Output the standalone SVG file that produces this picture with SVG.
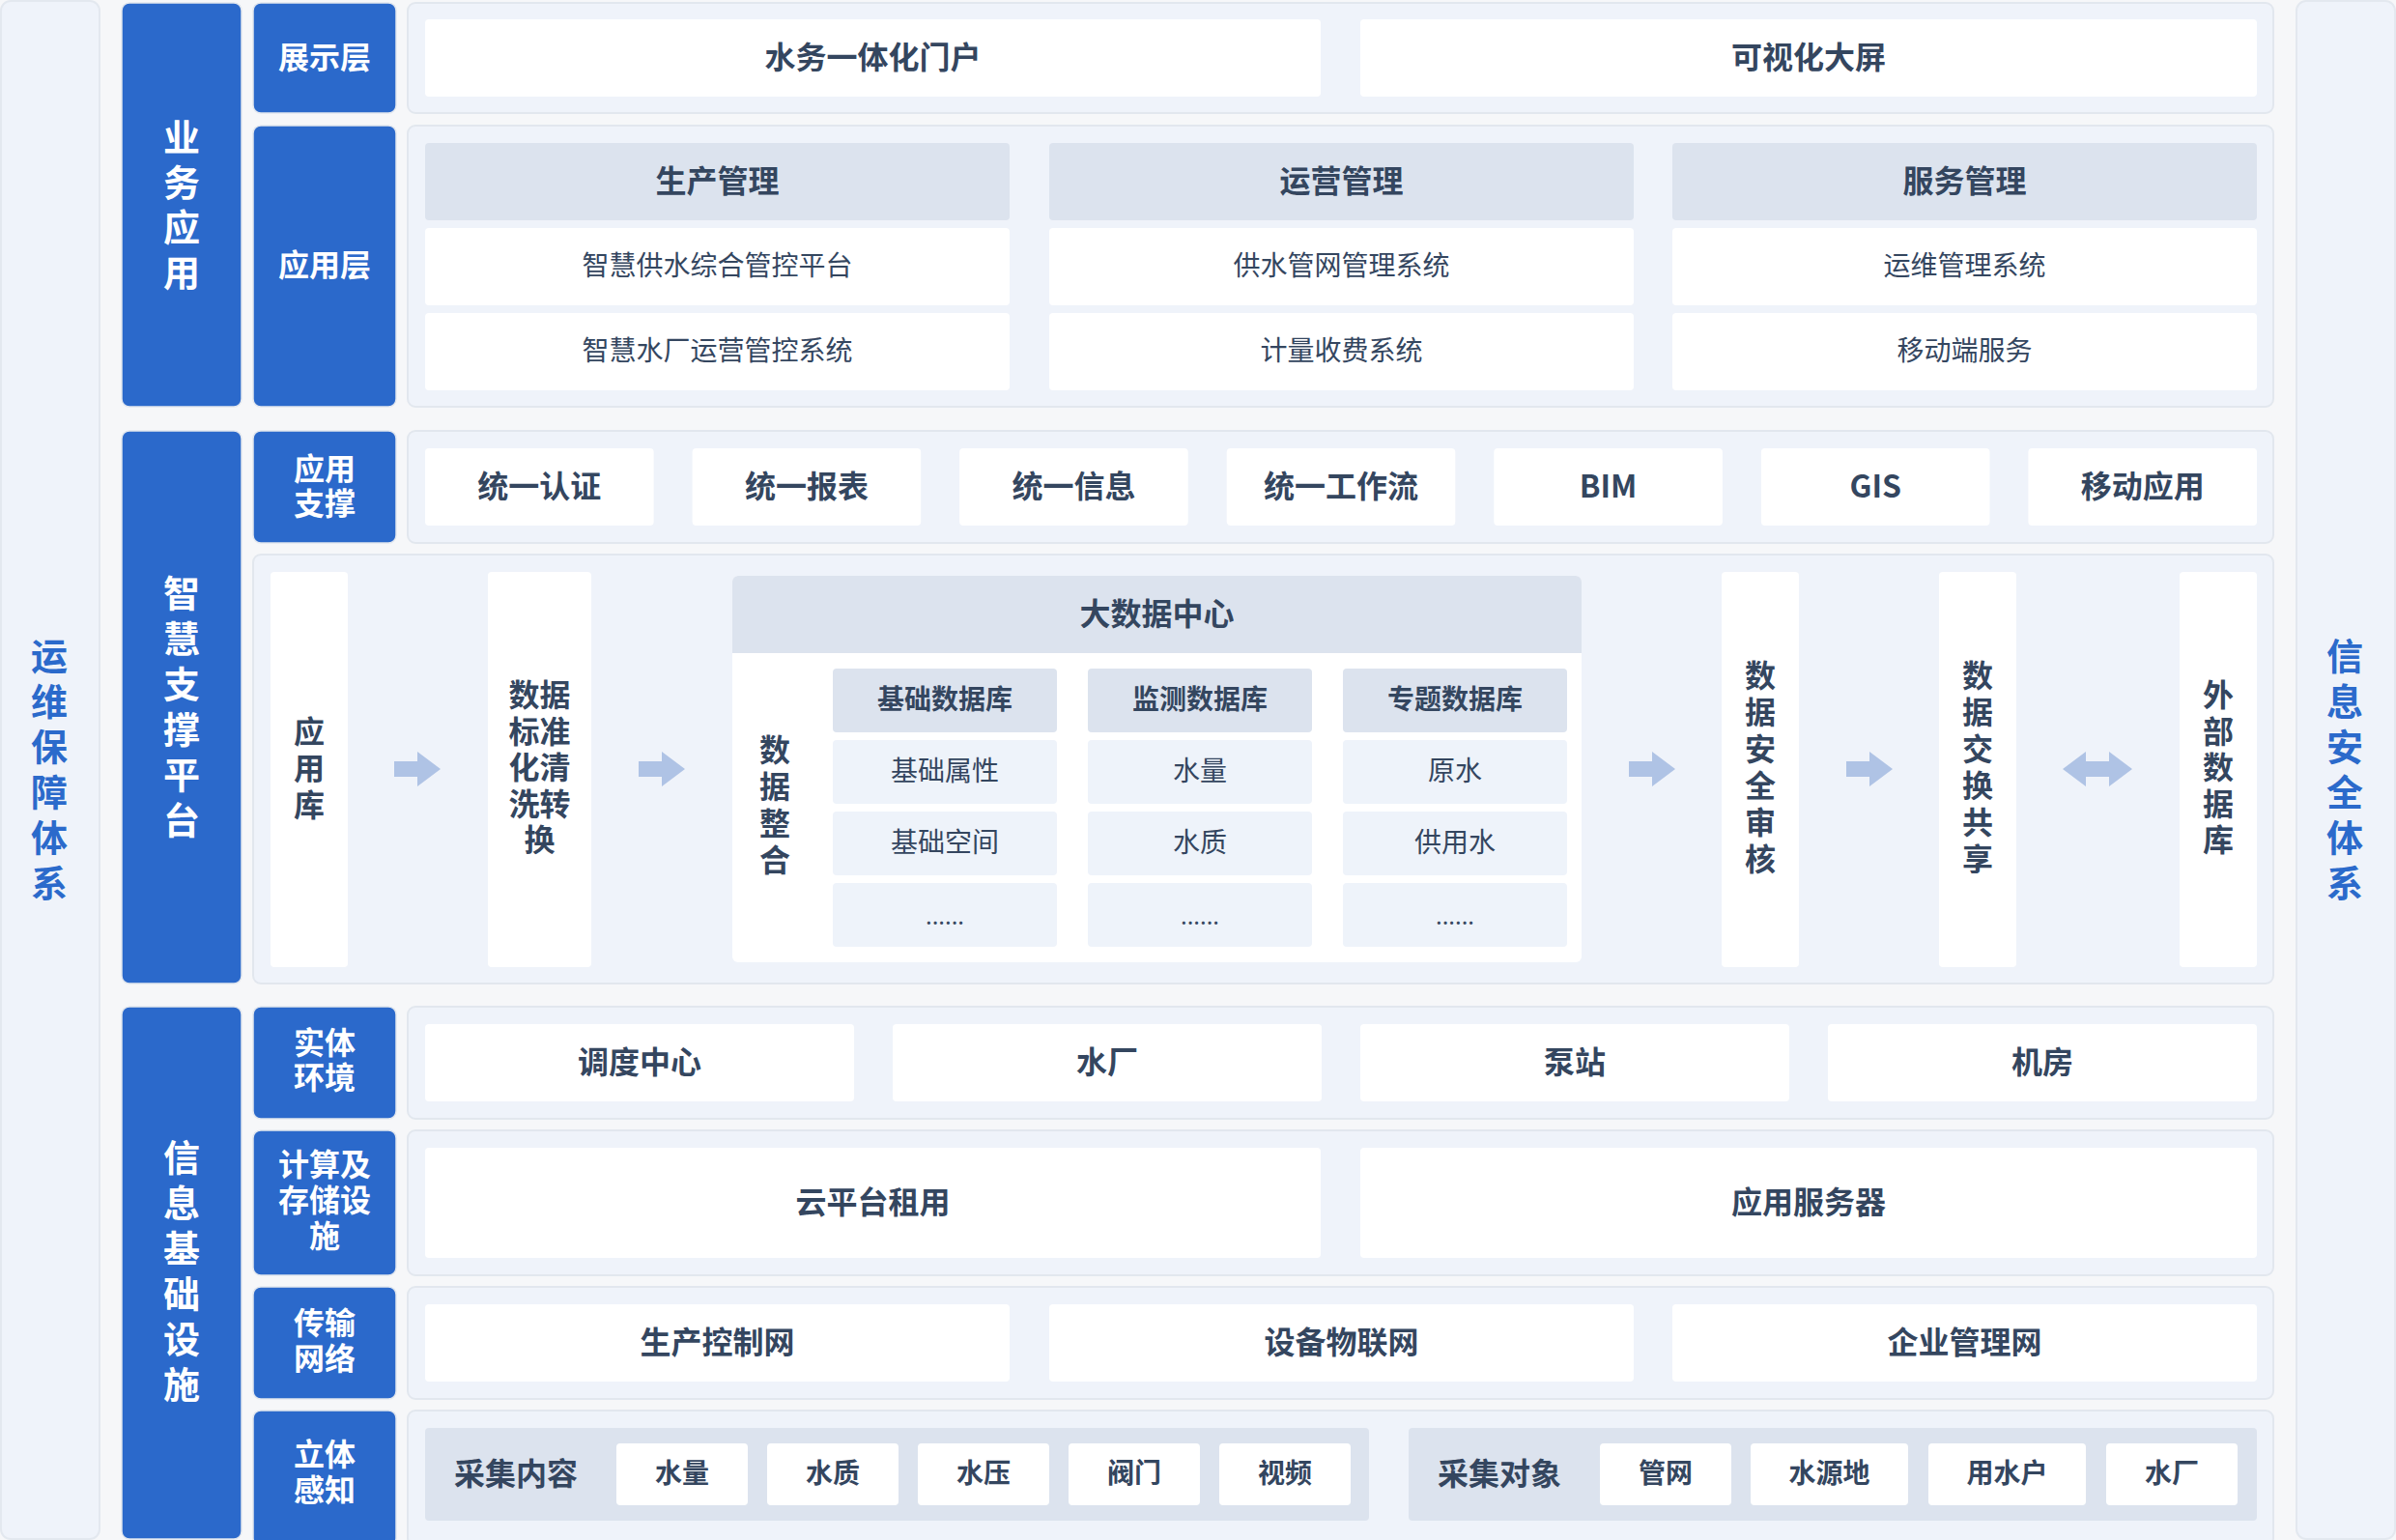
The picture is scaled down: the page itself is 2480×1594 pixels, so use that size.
<svg xmlns="http://www.w3.org/2000/svg" width="2480" height="1594" viewBox="0 0 2480 1594">
<style>
text{font-family:"Noto Sans CJK SC","Noto Sans",sans-serif;text-anchor:middle;dominant-baseline:central;fill:#34465F;transform:translate(0px,-3px)}
.b{font-weight:700}
.s32{font-size:32px}
.s28{font-size:28px}
.s38{font-size:38px}
.w{fill:#FFFFFF}
.wt{fill:#FFFFFF;font-weight:700}
.bt{fill:#2B6ACB;font-weight:700}
.side{fill:#EFF3FA;stroke:#E3E8EF;stroke-width:2}
.panel{fill:#EFF3FA;stroke:#E2E7EE;stroke-width:2}
.blue{fill:#2B69CB;stroke:#E2E7EE;stroke-width:1.5}
.box{fill:#FFFFFF}
.hdr{fill:#DCE3EE}
.cell{fill:#EEF3FA}
.arr{fill:#AFC3E5}
.dots{font-size:24px;dominant-baseline:auto}
</style>
<rect x="0" y="0" width="2480" height="1594" fill="#F6F7F9"/>

<g id="ops-system">
<rect class="side" x="1" y="1" width="102" height="1592" rx="10"/>
<text class="s38 bt" x="51"><tspan x="51" y="679">运</tspan><tspan x="51" y="726">维</tspan><tspan x="51" y="773">保</tspan><tspan x="51" y="820">障</tspan><tspan x="51" y="867">体</tspan><tspan x="51" y="914">系</tspan></text>
</g>
<g id="security-system">
<rect class="side" x="2377" y="1" width="102" height="1592" rx="10"/>
<text class="s38 bt"><tspan x="2427" y="679">信</tspan><tspan x="2427" y="726">息</tspan><tspan x="2427" y="773">安</tspan><tspan x="2427" y="820">全</tspan><tspan x="2427" y="867">体</tspan><tspan x="2427" y="914">系</tspan></text>
</g>

<!-- Section 1 -->
<g id="business-app">
<rect class="blue" x="126" y="3" width="124" height="418" rx="8"/>
<text class="s38 wt"><tspan x="188" y="142">业</tspan><tspan x="188" y="188.5">务</tspan><tspan x="188" y="235">应</tspan><tspan x="188" y="281.5">用</tspan></text>
</g>
<g id="display-layer">
<rect class="blue" x="262" y="3" width="148" height="114" rx="8"/>
<text class="s32 wt" x="336" y="60">展示层</text>
<rect class="panel" x="422" y="3" width="1931" height="114" rx="8"/>
<g id="portal"><rect class="box" x="440" y="20" width="927" height="80" rx="4"/><text class="s32 b" x="903.5" y="60">水务一体化门户</text></g>
<g id="bigscreen"><rect class="box" x="1408" y="20" width="928" height="80" rx="4"/><text class="s32 b" x="1872" y="60">可视化大屏</text></g>
</g>
<g id="app-layer">
<rect class="blue" x="262" y="130" width="148" height="291" rx="8"/>
<text class="s32 wt" x="336" y="275">应用层</text>
<rect class="panel" x="422" y="130" width="1931" height="291" rx="8"/>
<g id="prod-mgmt">
<rect class="hdr" x="440" y="148" width="605" height="80" rx="4"/><text class="s32 b" x="742.5" y="188">生产管理</text>
<rect class="box" x="440" y="236" width="605" height="80" rx="4"/><text class="s28" x="742.5" y="276">智慧供水综合管控平台</text>
<rect class="box" x="440" y="324" width="605" height="80" rx="4"/><text class="s28" x="742.5" y="364">智慧水厂运营管控系统</text>
</g>
<g id="ops-mgmt">
<rect class="hdr" x="1086" y="148" width="605" height="80" rx="4"/><text class="s32 b" x="1388.5" y="188">运营管理</text>
<rect class="box" x="1086" y="236" width="605" height="80" rx="4"/><text class="s28" x="1388.5" y="276">供水管网管理系统</text>
<rect class="box" x="1086" y="324" width="605" height="80" rx="4"/><text class="s28" x="1388.5" y="364">计量收费系统</text>
</g>
<g id="svc-mgmt">
<rect class="hdr" x="1731" y="148" width="605" height="80" rx="4"/><text class="s32 b" x="2033.5" y="188">服务管理</text>
<rect class="box" x="1731" y="236" width="605" height="80" rx="4"/><text class="s28" x="2033.5" y="276">运维管理系统</text>
<rect class="box" x="1731" y="324" width="605" height="80" rx="4"/><text class="s28" x="2033.5" y="364">移动端服务</text>
</g>
</g>

<!-- Section 2 -->
<g id="smart-platform">
<rect class="blue" x="126" y="446" width="124" height="572" rx="8"/>
<text class="s38 wt"><tspan x="188" y="614">智</tspan><tspan x="188" y="661">慧</tspan><tspan x="188" y="708">支</tspan><tspan x="188" y="755">撑</tspan><tspan x="188" y="802">平</tspan><tspan x="188" y="849">台</tspan></text>
</g>
<g id="app-support">
<rect class="blue" x="262" y="446" width="148" height="116" rx="8"/>
<text class="s32 wt"><tspan x="336" y="486">应用</tspan><tspan x="336" y="522">支撑</tspan></text>
<rect class="panel" x="422" y="446" width="1931" height="116" rx="8"/>
<g id="unified-auth"><rect class="box" x="440" y="464" width="236.6" height="80" rx="4"/><text class="s32 b" x="558.3" y="504">统一认证</text></g>
<g id="unified-report"><rect class="box" x="716.6" y="464" width="236.6" height="80" rx="4"/><text class="s32 b" x="834.9" y="504">统一报表</text></g>
<g id="unified-info"><rect class="box" x="993.1" y="464" width="236.6" height="80" rx="4"/><text class="s32 b" x="1111.4" y="504">统一信息</text></g>
<g id="unified-flow"><rect class="box" x="1269.7" y="464" width="236.6" height="80" rx="4"/><text class="s32 b" x="1388" y="504">统一工作流</text></g>
<g id="bim"><rect class="box" x="1546.3" y="464" width="236.6" height="80" rx="4"/><text class="s32 b" x="1664.6" y="504">BIM</text></g>
<g id="gis"><rect class="box" x="1822.9" y="464" width="236.6" height="80" rx="4"/><text class="s32 b" x="1941.2" y="504">GIS</text></g>
<g id="mobile-app"><rect class="box" x="2099.4" y="464" width="236.6" height="80" rx="4"/><text class="s32 b" x="2217.7" y="504">移动应用</text></g>
</g>
<rect class="panel" x="262" y="574" width="2091" height="444" rx="8"/>
<g id="app-db">
<rect class="box" x="280" y="592" width="80" height="409" rx="4"/>
<text class="s32 b"><tspan x="320" y="758">应</tspan><tspan x="320" y="796">用</tspan><tspan x="320" y="834">库</tspan></text>
</g>
<g id="data-clean">
<rect class="box" x="505" y="592" width="107" height="409" rx="4"/>
<text class="s32 b"><tspan x="558.5" y="720">数据</tspan><tspan x="558.5" y="757.5">标准</tspan><tspan x="558.5" y="795">化清</tspan><tspan x="558.5" y="832.5">洗转</tspan><tspan x="558.5" y="870">换</tspan></text>
</g>
<g id="big-data-center">
<rect class="box" x="758" y="596" width="879" height="400" rx="6"/>
<path class="hdr" d="M758 602a6 6 0 0 1 6-6h867a6 6 0 0 1 6 6v74h-879z"/>
<text class="s32 b" x="1197.5" y="636">大数据中心</text>
<text class="s32 b"><tspan x="802" y="777">数</tspan><tspan x="802" y="815">据</tspan><tspan x="802" y="853">整</tspan><tspan x="802" y="891">合</tspan></text>
<g id="base-db">
<rect class="hdr" x="862" y="692" width="232" height="66" rx="4"/><text class="s28 b" x="978" y="725">基础数据库</text>
<rect class="cell" x="862" y="766" width="232" height="66" rx="4"/><text class="s28" x="978" y="799">基础属性</text>
<rect class="cell" x="862" y="840" width="232" height="66" rx="4"/><text class="s28" x="978" y="873">基础空间</text>
<rect class="cell" x="862" y="914" width="232" height="66" rx="4"/><text class="dots" x="978" y="960">......</text>
</g>
<g id="monitor-db">
<rect class="hdr" x="1126" y="692" width="232" height="66" rx="4"/><text class="s28 b" x="1242" y="725">监测数据库</text>
<rect class="cell" x="1126" y="766" width="232" height="66" rx="4"/><text class="s28" x="1242" y="799">水量</text>
<rect class="cell" x="1126" y="840" width="232" height="66" rx="4"/><text class="s28" x="1242" y="873">水质</text>
<rect class="cell" x="1126" y="914" width="232" height="66" rx="4"/><text class="dots" x="1242" y="960">......</text>
</g>
<g id="topic-db">
<rect class="hdr" x="1390" y="692" width="232" height="66" rx="4"/><text class="s28 b" x="1506" y="725">专题数据库</text>
<rect class="cell" x="1390" y="766" width="232" height="66" rx="4"/><text class="s28" x="1506" y="799">原水</text>
<rect class="cell" x="1390" y="840" width="232" height="66" rx="4"/><text class="s28" x="1506" y="873">供用水</text>
<rect class="cell" x="1390" y="914" width="232" height="66" rx="4"/><text class="dots" x="1506" y="960">......</text>
</g>
</g>
<g id="data-audit">
<rect class="box" x="1782" y="592" width="80" height="409" rx="4"/>
<text class="s32 b"><tspan x="1822" y="700">数</tspan><tspan x="1822" y="738">据</tspan><tspan x="1822" y="776">安</tspan><tspan x="1822" y="814">全</tspan><tspan x="1822" y="852">审</tspan><tspan x="1822" y="890">核</tspan></text>
</g>
<g id="data-exchange">
<rect class="box" x="2007" y="592" width="80" height="409" rx="4"/>
<text class="s32 b"><tspan x="2047" y="700">数</tspan><tspan x="2047" y="738">据</tspan><tspan x="2047" y="776">交</tspan><tspan x="2047" y="814">换</tspan><tspan x="2047" y="852">共</tspan><tspan x="2047" y="890">享</tspan></text>
</g>
<g id="external-db">
<rect class="box" x="2256" y="592" width="80" height="409" rx="4"/>
<text class="s32 b"><tspan x="2296" y="720">外</tspan><tspan x="2296" y="757.5">部</tspan><tspan x="2296" y="795">数</tspan><tspan x="2296" y="832.5">据</tspan><tspan x="2296" y="870">库</tspan></text>
</g>

<g id="connectors">
<path class="arr" d="M408 788h24v-10l24 18l-24 18v-10h-24z"/>
<path class="arr" d="M661 788h24v-10l24 18l-24 18v-10h-24z"/>
<path class="arr" d="M1686 788h24v-10l24 18l-24 18v-10h-24z"/>
<path class="arr" d="M1911 788h24v-10l24 18l-24 18v-10h-24z"/>
<path class="arr" d="M2135 796l24-18v10h24v-10l24 18l-24 18v-10h-24v10z"/>
</g>

<!-- Section 3 -->
<g id="infra">
<rect class="blue" x="126" y="1042" width="124" height="551" rx="8"/>
<text class="s38 wt"><tspan x="188" y="1198">信</tspan><tspan x="188" y="1245">息</tspan><tspan x="188" y="1292">基</tspan><tspan x="188" y="1339">础</tspan><tspan x="188" y="1386">设</tspan><tspan x="188" y="1433">施</tspan></text>
</g>
<g id="physical-env">
<rect class="blue" x="262" y="1042" width="148" height="116" rx="8"/>
<text class="s32 wt"><tspan x="336" y="1080">实体</tspan><tspan x="336" y="1116">环境</tspan></text>
<rect class="panel" x="422" y="1042" width="1931" height="116" rx="8"/>
<g id="dispatch"><rect class="box" x="440" y="1060" width="444" height="80" rx="4"/><text class="s32 b" x="662" y="1100">调度中心</text></g>
<g id="waterworks"><rect class="box" x="924" y="1060" width="444" height="80" rx="4"/><text class="s32 b" x="1146" y="1100">水厂</text></g>
<g id="pump"><rect class="box" x="1408" y="1060" width="444" height="80" rx="4"/><text class="s32 b" x="1630" y="1100">泵站</text></g>
<g id="machine-room"><rect class="box" x="1892" y="1060" width="444" height="80" rx="4"/><text class="s32 b" x="2114" y="1100">机房</text></g>
</g>
<g id="compute-storage">
<rect class="blue" x="262" y="1170" width="148" height="150" rx="8"/>
<text class="s32 wt"><tspan x="336" y="1206">计算及</tspan><tspan x="336" y="1243">存储设</tspan><tspan x="336" y="1280">施</tspan></text>
<rect class="panel" x="422" y="1170" width="1931" height="150" rx="8"/>
<g id="cloud"><rect class="box" x="440" y="1188" width="927" height="114" rx="4"/><text class="s32 b" x="903.5" y="1245">云平台租用</text></g>
<g id="app-server"><rect class="box" x="1408" y="1188" width="928" height="114" rx="4"/><text class="s32 b" x="1872" y="1245">应用服务器</text></g>
</g>
<g id="network">
<rect class="blue" x="262" y="1332" width="148" height="116" rx="8"/>
<text class="s32 wt"><tspan x="336" y="1370">传输</tspan><tspan x="336" y="1407">网络</tspan></text>
<rect class="panel" x="422" y="1332" width="1931" height="116" rx="8"/>
<g id="ctrl-net"><rect class="box" x="440" y="1350" width="605" height="80" rx="4"/><text class="s32 b" x="742.5" y="1390">生产控制网</text></g>
<g id="iot-net"><rect class="box" x="1086" y="1350" width="605" height="80" rx="4"/><text class="s32 b" x="1388.5" y="1390">设备物联网</text></g>
<g id="ent-net"><rect class="box" x="1731" y="1350" width="605" height="80" rx="4"/><text class="s32 b" x="2033.5" y="1390">企业管理网</text></g>
</g>
<g id="sensing">
<rect class="blue" x="262" y="1460" width="148" height="140" rx="8"/>
<text class="s32 wt"><tspan x="336" y="1506">立体</tspan><tspan x="336" y="1543">感知</tspan></text>
<rect class="panel" x="422" y="1460" width="1931" height="140" rx="8"/>
<g id="collect-content">
<rect class="hdr" x="440" y="1478" width="977" height="96" rx="4"/>
<text class="s32 b" x="534" y="1526">采集内容</text>
<rect class="box" x="638" y="1494" width="136" height="64" rx="4"/><text class="s28 b" x="706" y="1526">水量</text>
<rect class="box" x="794" y="1494" width="136" height="64" rx="4"/><text class="s28 b" x="862" y="1526">水质</text>
<rect class="box" x="950" y="1494" width="136" height="64" rx="4"/><text class="s28 b" x="1018" y="1526">水压</text>
<rect class="box" x="1106" y="1494" width="136" height="64" rx="4"/><text class="s28 b" x="1174" y="1526">阀门</text>
<rect class="box" x="1262" y="1494" width="136" height="64" rx="4"/><text class="s28 b" x="1330" y="1526">视频</text>
</g>
<g id="collect-object">
<rect class="hdr" x="1458" y="1478" width="878" height="96" rx="4"/>
<text class="s32 b" x="1552" y="1526">采集对象</text>
<rect class="box" x="1656" y="1494" width="136" height="64" rx="4"/><text class="s28 b" x="1724" y="1526">管网</text>
<rect class="box" x="1812" y="1494" width="163" height="64" rx="4"/><text class="s28 b" x="1893.5" y="1526">水源地</text>
<rect class="box" x="1996" y="1494" width="163" height="64" rx="4"/><text class="s28 b" x="2077.5" y="1526">用水户</text>
<rect class="box" x="2180" y="1494" width="136" height="64" rx="4"/><text class="s28 b" x="2248" y="1526">水厂</text>
</g>
</g>
</svg>
